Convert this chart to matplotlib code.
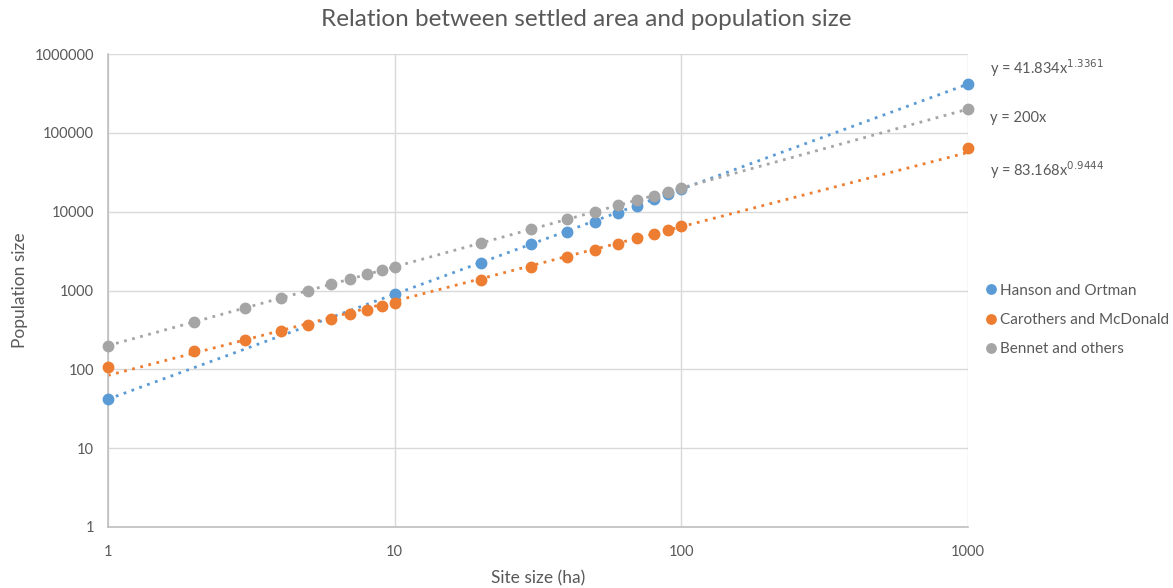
import numpy as np
import matplotlib.pyplot as plt

plt.rcParams['font.family'] = ['Lato', 'DejaVu Sans']

# values
x_hanson = [1, 10, 20, 30, 40, 50, 60, 70, 80, 90, 100, 1000]
y_hanson = [42, 910, 2260, 3940, 5600, 7500, 9700, 11900, 14300, 16900, 19600, 420000]

x_all = [1, 2, 3, 4, 5, 6, 7, 8, 9, 10, 20, 30, 40, 50, 60, 70, 80, 90, 100, 1000]
y_carothers = [107, 172, 237, 302, 367, 432, 497, 562, 627, 692,
               1342, 1992, 2642, 3292, 3942, 4592, 5242, 5892, 6542, 65042]
y_bennet = [200, 400, 600, 800, 1000, 1200, 1400, 1600, 1800, 2000,
            4000, 6000, 8000, 10000, 12000, 14000, 16000, 18000, 20000, 200000]

labels = ['Hanson and Ortman', 'Carothers and McDonald', 'Bennet and others']
equations = ['y = 41.834x$^{1.3361}$', 'y = 200x', 'y = 83.168x$^{0.9444}$']
colors = ['#5B9BD5', '#ED7D31', '#A5A5A5']

series = [(x_hanson, y_hanson), (x_all, y_carothers), (x_all, y_bennet)]

fig = plt.figure(figsize=(11.73, 5.88), dpi=100)
ax = fig.add_axes([108 / 1173, 1 - 527 / 588, 860 / 1173, 473 / 588])

xs_fit = np.logspace(0, 3, 50)
for (xv, yv), lab, c in zip(series, labels, colors):
    # power trendline fitted in log space
    k, b = np.polyfit(np.log10(xv), np.log10(yv), 1)
    ax.plot(xs_fit, 10 ** b * xs_fit ** k, ls=(0, (1, 2)), lw=2, color=c, zorder=2)
    ax.plot(xv, yv, 'o', ms=7.5, color=c, label=lab, zorder=3, clip_on=False)

ax.set_xscale('log')
ax.set_yscale('log')
ax.set_xlim(1, 1000)
ax.set_ylim(1, 1000000)
ax.set_xticks([1, 10, 100, 1000])
ax.set_xticklabels(['1', '10', '100', '1000'])
ax.set_yticks([1, 10, 100, 1000, 10000, 100000, 1000000])
ax.set_yticklabels(['1', '10', '100', '1000', '10000', '100000', '1000000'])
ax.minorticks_off()
ax.tick_params(length=0, colors='#595959', labelsize=10.5)
ax.tick_params(axis='x', pad=13)
ax.tick_params(axis='y', pad=10)
ax.grid(True, color='#D9D9D9', lw=1)
ax.set_axisbelow(True)
for s in ['top', 'right']:
    ax.spines[s].set_visible(False)
for s in ['left', 'bottom']:
    ax.spines[s].set_color('#BFBFBF')
    ax.spines[s].set_linewidth(1.2)

fig.text(0.5, 1 - 20 / 588, 'Relation between settled area and population size',
         fontsize=17.5, color='#595959', ha='center', va='center')
ax.set_xlabel('Site size (ha)', fontsize=12.5, color='#595959', labelpad=8)
ax.set_ylabel('Population size', fontsize=12.5, color='#595959', labelpad=5)

eq_y = [68, 118, 170]
for txt, yp in zip(equations, eq_y):
    fig.text(990 / 1173, 1 - yp / 588, txt, fontsize=10.5, color='#595959', va='center')

ax.legend(loc='center left', bbox_to_anchor=(1.002, 0.4376), frameon=False,
          handletextpad=0.1, handlelength=1.0, fontsize=11, labelspacing=1.0,
          markerscale=0.9, labelcolor='#595959')

fig.savefig('out.png', dpi=100)
